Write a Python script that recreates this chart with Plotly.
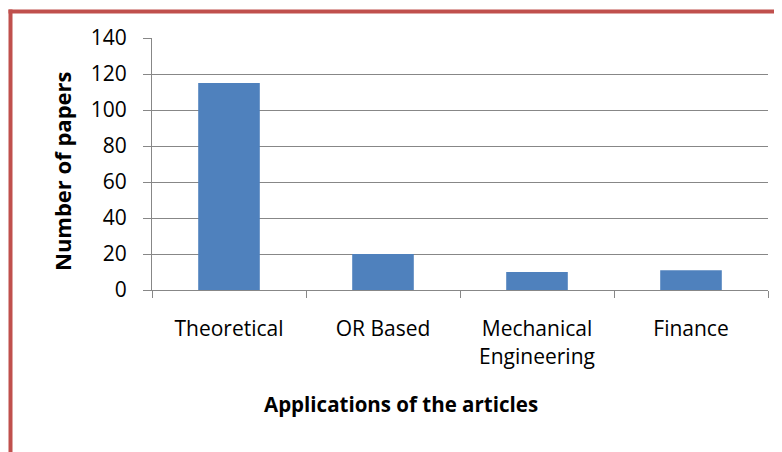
import plotly.graph_objects as go

categories = ["Theoretical", "OR Based", "Mechanical<br>Engineering", "Finance"]
papers = [115, 20, 10, 11]
y_ticks = [0, 20, 40, 60, 80, 100, 120, 140]
x_title = "Applications of the articles"
y_title = "Number of papers"

FONT = "Open Sans"
GRID = "#878787"
RED = "#C0504D"

fig = go.Figure(
    go.Bar(
        x=categories,
        y=papers,
        marker=dict(color="#4F81BD", line=dict(width=0)),
        width=0.4,
    )
)

# page body has an 8px margin, so the figure is drawn at (8, 8)
W, H = 774, 444
L, R, T, B = 144, 14, 30, 162
pw, ph = W - L - R, H - T - B


def px_x(px):
    return (px - L) / pw


def px_y(py):
    return (H - B - py) / ph


fig.update_layout(
    width=W,
    height=H,
    margin=dict(l=L, r=R, t=T, b=B, autoexpand=False),
    paper_bgcolor="white",
    plot_bgcolor="white",
    showlegend=False,
    font=dict(family=FONT, size=21, color="black"),
    xaxis=dict(
        type="category",
        showline=True,
        linecolor=GRID,
        linewidth=1,
        ticks="outside",
        tickson="boundaries",
        ticklen=7,
        tickcolor=GRID,
        showgrid=False,
        ticklabelstandoff=20,
        tickfont=dict(size=21),
        automargin=False,
    ),
    yaxis=dict(
        range=[0, 140],
        tickvals=y_ticks,
        showline=True,
        linecolor=GRID,
        linewidth=1,
        ticks="outside",
        ticklen=8,
        tickcolor=GRID,
        showgrid=True,
        gridcolor=GRID,
        gridwidth=1,
        zeroline=False,
        ticklabelstandoff=12,
        tickfont=dict(size=21),
        automargin=False,
    ),
    annotations=[
        dict(text="<b>" + x_title + "</b>", xref="paper", yref="paper",
             x=px_x(393), y=px_y(396), xanchor="center", yanchor="middle",
             showarrow=False, font=dict(size=20.5)),
        dict(text="<b>" + y_title + "</b>", xref="paper", yref="paper",
             x=px_x(54), y=px_y(163), xanchor="center", yanchor="middle",
             textangle=-90, showarrow=False, font=dict(size=22)),
    ],
    shapes=[
        dict(type="line", xref="paper", yref="paper",
             x0=px_x(0.5), x1=px_x(W), y0=px_y(3.5), y1=px_y(3.5),
             line=dict(color=RED, width=4)),
        dict(type="line", xref="paper", yref="paper",
             x0=px_x(2.5), x1=px_x(2.5), y0=px_y(1.5), y1=px_y(H),
             line=dict(color=RED, width=4)),
    ],
)

fig.write_html("out.html")
